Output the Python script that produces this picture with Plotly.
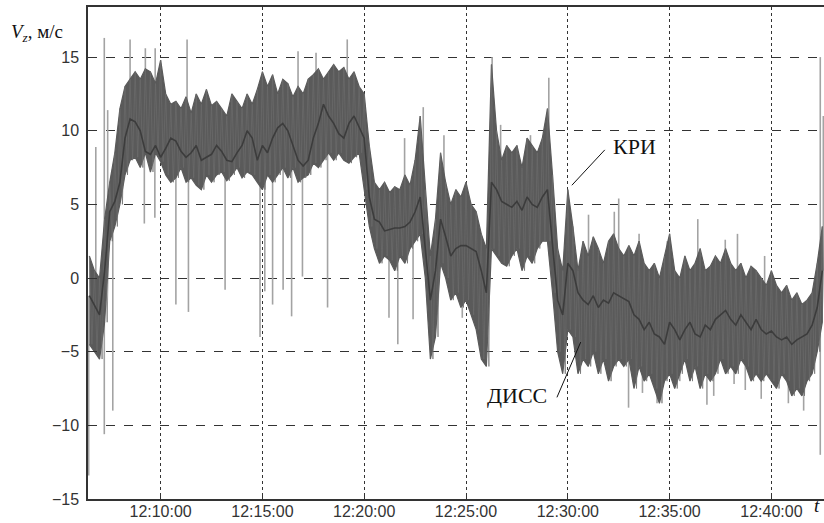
import numpy as np
import pandas as pd
import plotly.graph_objects as go

DAY = "2020-01-01 "

# ---- data ----
band_start = "12:06:30"          # first sample of the dense band
band_step_s = 15                 # seconds between samples

band_hi = [1.5, 0.5, 0.0, 4.0, 6.5, 8.5, 11.5, 13.0, 13.5, 14.0, 13.5, 14.2, 14.0, 13.2, 14.8,
           12.5, 11.8, 12.0, 11.5, 12.3, 11.2, 12.5, 11.8, 12.8, 11.7, 12.0, 11.5, 11.0, 12.5, 12.0,
           11.5, 12.5, 11.8, 12.8, 14.0,
           13.0, 13.8, 12.5, 13.5, 13.2, 12.3, 13.0, 12.5, 13.5, 13.8, 14.2, 13.5, 14.0, 14.5, 14.0,
           14.3, 13.5, 14.0, 13.0, 12.5,
           9.0, 6.5, 6.0, 6.5, 5.8, 6.2, 6.0, 7.0, 6.3, 8.0, 11.0, 6.0, 1.5, 4.0, 8.5, 6.5, 5.0, 6.0,
           5.5, 6.5,
           5.0, 4.5, 3.0, 2.0, 14.5, 10.0, 8.0, 9.0, 8.5, 9.0, 7.5, 9.5, 9.0, 8.5, 9.5, 11.5, 7.0,
           2.0, 0.5, 6.0, 3.5, 0.5,
           2.5, 1.5, 2.8, 2.0, 1.0, 2.5, 3.0, 2.0, 1.5, 2.2, 1.5, 2.5, 1.0, 0.5,
           1.0, 0.0, 1.5, 3.0, 0.5, 0.0, 1.5, 0.5, 1.0, 2.0, 0.5, 0.8, 1.5, 1.0, 2.0, 1.0, 0.5, 1.0,
           0.0, 0.8, 0.5, 0.0, -0.5, 0.5, -0.5, -1.0, -0.5, -1.5, -1.0, -1.8, -1.5, -1.0, 1.0, 3.5]

band_lo = [-4.5, -5.0, -5.5, -3.0, 2.5, 3.5, 5.0, 7.0, 8.0, 8.2, 7.5, 8.5, 7.2, 8.5, 7.9,
           7.0, 6.5, 6.8, 7.5, 6.5, 6.8, 6.3, 6.0, 7.0, 6.5, 7.0, 7.2, 6.6, 7.0, 7.5, 6.8, 7.2, 7.0,
           6.5, 6.0,
           7.0, 6.5, 7.0, 7.5, 6.8, 7.5, 6.5, 6.8, 7.0, 7.8, 7.5, 8.0, 8.5, 8.0, 8.5, 8.0, 7.8, 8.2,
           8.5, 6.0,
           3.5, 2.0, 1.0, 1.5, 1.2, 0.5, 1.5, 1.0, 2.0, 2.5, 3.0, 0.0, -5.5, -4.0, 1.0, 0.0, -1.5,
           -1.0, -2.0, -1.5,
           -2.5, -3.5, -5.5, -6.0, 2.0, 1.5, 1.0, 0.8, 1.5, 2.0, 0.5, 1.5, 1.0, 2.0, 2.5, 2.5, -1.0,
           -5.0, -6.5, -3.5, -4.0, -6.5,
           -5.5, -6.0, -5.0, -6.5, -5.5, -7.0, -6.0, -5.5, -6.0, -5.5, -7.5, -6.0, -7.0, -6.5,
           -7.5, -8.5, -7.0, -6.5, -7.5, -6.5, -5.5, -7.0, -6.0, -7.5, -6.5, -7.0, -6.5, -5.5, -6.5,
           -6.0, -6.5, -5.5, -6.0, -7.0, -6.5, -7.0, -6.5, -7.0, -7.5, -6.5, -7.0, -8.0, -7.5, -8.0,
           -7.0, -6.5, -5.0, -3.0]

diss_mean = [-1.2, -1.8, -2.5, 0.5, 4.5, 5.2, 6.5, 9.5, 10.8, 10.6, 10.0, 8.6, 8.4, 9.0, 8.2,
             8.8, 9.5, 9.3, 8.6, 8.2, 8.5, 9.0, 8.0, 8.2, 8.4, 9.0, 8.6, 8.0, 7.9, 8.5, 9.0, 10.0,
             9.5, 8.0, 9.0,
             8.5, 9.5, 10.2, 10.5, 10.0, 9.0, 8.0, 7.6, 8.0, 9.5, 10.5, 11.8, 11.0, 10.5, 9.8, 9.5,
             10.5, 11.0, 10.2, 9.5,
             5.5, 4.0, 3.8, 3.2, 3.3, 3.4, 3.4, 3.5, 3.8, 4.5, 5.5, 2.0, -1.5, 0.5, 4.0, 2.8, 1.5,
             2.0, 2.2, 2.2,
             2.0, 1.8, 0.5, -1.0, 6.5, 6.0, 5.2, 5.0, 4.8, 5.2, 4.6, 5.5, 5.0, 4.8, 5.5, 6.0, 2.5,
             -1.5, -2.5, 1.0, 0.5, -1.0,
             -1.5, -1.8, -1.2, -2.0, -1.5, -1.7, -1.0, -1.2, -1.4, -1.6, -2.5, -2.8, -3.5, -3.0,
             -3.8, -4.0, -4.5, -3.0, -3.5, -4.2, -3.5, -3.0, -3.8, -4.0, -3.2, -3.5, -2.8, -2.5,
             -2.2, -2.8, -3.2, -2.5, -3.0, -3.5, -2.8, -3.5, -3.8, -3.6, -4.0, -4.2, -4.0, -4.5,
             -4.2, -4.0, -3.8, -3.2, -2.0, 0.5]

spike_times = ["12:06:28", "12:06:49", "12:07:14", "12:07:14", "12:07:24", "12:07:39", "12:08:30",
               "12:09:12", "12:09:15", "12:09:43", "12:09:44", "12:10:45", "12:11:18", "12:11:22",
               "12:13:10", "12:14:53", "12:15:07", "12:15:30", "12:16:01", "12:16:26", "12:16:45",
               "12:16:58", "12:17:38", "12:18:12", "12:19:10", "12:21:13", "12:21:39", "12:21:59",
               "12:22:24", "12:22:54", "12:23:55", "12:24:49", "12:26:17", "12:26:42", "12:28:10",
               "12:29:04", "12:31:01", "12:32:17", "12:32:30", "12:32:59", "12:33:30", "12:33:40",
               "12:34:23", "12:34:53", "12:35:30", "12:36:23", "12:36:50", "12:37:10", "12:37:44",
               "12:38:10", "12:38:20", "12:38:43", "12:39:30", "12:39:40", "12:40:50", "12:41:35",
               "12:42:24", "12:42:24", "12:42:33"]
spike_vals = [-13.4, 8.9, 16.3, -10.6, 11.4, -9.0, 16.2,
              3.7, 15.6, 4.1, 15.6, -1.8, 16.2, -2.3,
              -0.8, -4.0, -0.9, -1.8, -0.8, -2.6, 15.4,
              0.1, 15.3, -2.0, 16.2, -2.7, -4.5, 9.5,
              -2.8, 11.6, 9.7, -2.7, 15.0, 10.4, 9.7,
              13.6, 4.3, 4.5, 5.4, -8.8, 3.0, -7.8,
              -8.5, 2.5, -7.0, 4.0, -8.6, -8.0, 2.6,
              -7.2, 3.0, -7.6, -8.2, 1.5, -8.5, -9.0,
              15.0, -12.0, 11.0]

y_ticks = [-15, -10, -5, 0, 5, 10, 15]
x_ticks = ["12:10:00", "12:15:00", "12:20:00", "12:25:00", "12:30:00", "12:35:00", "12:40:00"]
x_range = ["12:06:26", "12:42:35"]
y_range = [-15, 18.4]

# ---- build traces ----
t = pd.date_range(DAY + band_start, periods=len(band_hi), freq=f"{band_step_s}s")
half = pd.Timedelta(seconds=band_step_s / 2)
t_list = list(t)

fig = go.Figure()

# light-grey spikes (drawn first, under the band)
t0 = t[0]
sx, sy = [], []
for ts, v in zip(spike_times, spike_vals):
    tt = pd.Timestamp(DAY + ts)
    idx = int(round((tt - t0).total_seconds() / band_step_s))
    idx = min(max(idx, 0), len(diss_mean) - 1)
    sx += [tt, tt, None]
    sy += [diss_mean[idx], v, None]
fig.add_trace(go.Scatter(x=sx, y=sy, mode="lines", name="КРИ (выбросы)",
                         line=dict(color="#a3a3a3", width=1.6), hoverinfo="skip"))

# dense band (envelope fill)
fig.add_trace(go.Scatter(x=t_list + t_list[::-1], y=band_hi + band_lo[::-1],
                         mode="lines", fill="toself", fillcolor="#5a5a5a",
                         line=dict(color="#5a5a5a", width=1.2), name="КРИ"))

# fine texture inside the band: signal swinging between envelopes
zx, zy = [], []
for ti, h, l in zip(t, band_hi, band_lo):
    zx += [ti, ti + half]
    zy += [h, l]
fig.add_trace(go.Scatter(x=zx, y=zy, mode="lines", name="КРИ (сигнал)",
                         line=dict(color="#6c6c6c", width=0.7), hoverinfo="skip"))

# smoothed line
fig.add_trace(go.Scatter(x=t_list, y=diss_mean, mode="lines", name="ДИСС",
                         line=dict(color="#3c3c3c", width=1.6)))

# pointer lines for labels
fig.add_trace(go.Scatter(x=[DAY + "12:30:12", DAY + "12:31:49"], y=[6.3, 8.7], mode="lines",
                         line=dict(color="#111", width=1), hoverinfo="skip"))
fig.add_trace(go.Scatter(x=[DAY + "12:29:28", DAY + "12:30:38"], y=[-8.1, -4.35], mode="lines",
                         line=dict(color="#111", width=1), hoverinfo="skip"))

serif = "Liberation Serif, Times New Roman, serif"
sans = "Liberation Sans, Arial, sans-serif"

fig.add_annotation(x=DAY + "12:32:08", y=8.9, text="КРИ", showarrow=False, xanchor="left",
                   font=dict(family=serif, size=22, color="#111"))
fig.add_annotation(x=DAY + "12:29:06", y=-8.0, text="ДИСС", showarrow=False, xanchor="right",
                   font=dict(family=serif, size=22, color="#111"))
fig.add_annotation(x=-0.108, y=0.975, xref="paper", yref="paper", xanchor="left",
                   text="<i>V<sub>z</sub></i>, м/с", showarrow=False,
                   font=dict(family=serif, size=19, color="#111"))
fig.add_annotation(x=0.984, y=-0.038, xref="paper", yref="paper", xanchor="left",
                   text="<i>t</i>", showarrow=False,
                   font=dict(family=serif, size=19, color="#111"))

fig.update_layout(width=824, height=523, margin=dict(l=88, r=0, t=7, b=24),
                  plot_bgcolor="white", paper_bgcolor="white", showlegend=False)

fig.update_xaxes(type="date", range=[DAY + x_range[0], DAY + x_range[1]],
                 tickvals=[DAY + s for s in x_ticks], ticktext=x_ticks,
                 showgrid=True, gridcolor="#333", griddash="dot", gridwidth=1,
                 showline=True, linecolor="#333", linewidth=1.5, mirror=True,
                 ticks="inside", ticklen=4, tickcolor="#333", ticklabelstandoff=-3,
                 tickfont=dict(family=sans, size=16, color="#333"), zeroline=False)
fig.update_yaxes(range=y_range, tickvals=y_ticks,
                 showgrid=True, gridcolor="#333", griddash="dash", gridwidth=1,
                 showline=True, linecolor="#333", linewidth=1.5,
                 ticks="inside", ticklen=9, tickcolor="#333", ticklabelstandoff=4,
                 tickfont=dict(family=sans, size=16, color="#333"), zeroline=False)

fig.write_html("out.html", config={"displayModeBar": False},
               post_script="document.body.style.margin='0';")
